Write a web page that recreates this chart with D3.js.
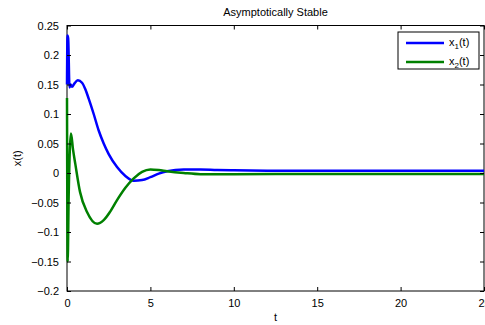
<!DOCTYPE html>
<html>
<head>
<meta charset="utf-8">
<script src="https://cdn.jsdelivr.net/npm/d3@7"></script>
<style>
  body { margin: 0; background: #fff; }
  text { font-family: "Liberation Sans", Arial, sans-serif; }
</style>
</head>
<body>
<div id="chart"></div>
<script>
// values
const tVals1 = [0, 0.03, 0.07, 0.15, 0.22, 0.3, 0.45, 0.65, 0.9, 1.1, 1.3, 1.6, 1.9, 2.2, 2.5, 3, 3.5, 4, 4.5, 5, 5.5, 6, 7, 8, 9, 10, 12, 15, 20, 25];
const x1Vals = [0.15, 0.233, 0.228, 0.145, 0.15, 0.146, 0.152, 0.157, 0.153, 0.142, 0.126, 0.1, 0.072, 0.05, 0.032, 0.01, -0.005, -0.013, -0.012, -0.007, -0.001, 0.003, 0.006, 0.006, 0.005, 0.0045, 0.004, 0.004, 0.004, 0.004];

const tVals2 = [0, 0.04, 0.1, 0.24, 0.36, 0.5, 0.78, 1.2, 1.8, 2.2, 2.6, 3, 3.5, 4, 4.5, 5, 5.5, 6, 7, 8, 10, 15, 20, 25];
const x2Vals = [0.127, -0.15, -0.04, 0.067, 0.04, 0.015, -0.032, -0.066, -0.086, -0.08, -0.065, -0.046, -0.025, -0.009, 0.002, 0.006, 0.005, 0.003, 0, -0.002, -0.002, -0.0015, -0.0015, -0.0015];

const xTicks = [0, 5, 10, 15, 20, 25];
const yTicks = [0.25, 0.2, 0.15, 0.1, 0.05, 0, -0.05, -0.1, -0.15, -0.2];
const seriesNames = ['x1', 'x2'];
const seriesColors = ['#0000ff', '#008000'];

const W = 485, H = 325;
const margin = { top: 25.5, right: 1, bottom: 34, left: 67 };
const width = W - margin.left - margin.right,
  height = H - margin.top - margin.bottom;

const svg = d3.select('#chart').append('svg')
  .attr('width', W)
  .attr('height', H);

const x = d3.scaleLinear().domain([0, 25]).range([margin.left, margin.left + width]);
const y = d3.scaleLinear().domain([-0.2, 0.25]).range([margin.top + height, margin.top]);

// lines
const line = d3.line()
  .x(d => x(d[0]))
  .y(d => y(d[1]))
  .curve(d3.curveMonotoneX);

const series = [
  d3.zip(tVals1, x1Vals),
  d3.zip(tVals2, x2Vals)
];

// frame
svg.append('rect')
  .attr('x', margin.left).attr('y', margin.top)
  .attr('width', width).attr('height', height)
  .attr('fill', 'none').attr('stroke', '#000').attr('stroke-width', 1);

series.forEach((s, i) => {
  svg.append('path')
    .attr('d', line(s))
    .attr('fill', 'none')
    .attr('stroke', seriesColors[i])
    .attr('stroke-width', 2.5)
    .attr('stroke-linejoin', 'round');
});

// axes, ticks pointing inward like matlab
const tickLen = 4;
const bottomAxis = d3.axisBottom(x).tickValues(xTicks).tickSize(-tickLen).tickPadding(8).tickFormat(d3.format('d'));
const topAxis = d3.axisTop(x).tickValues(xTicks).tickSize(-tickLen).tickFormat('');
const leftAxis = d3.axisLeft(y).tickValues(yTicks).tickSize(-tickLen).tickPadding(8).tickFormat(d => d === 0 ? '0' : d3.format('')(+d.toFixed(2)));
const rightAxis = d3.axisRight(y).tickValues(yTicks).tickSize(-tickLen).tickFormat('');

const gb = svg.append('g').attr('transform', 'translate(0,' + (margin.top + height) + ')').call(bottomAxis);
const gt = svg.append('g').attr('transform', 'translate(0,' + margin.top + ')').call(topAxis);
const gl = svg.append('g').attr('transform', 'translate(' + margin.left + ',0)').call(leftAxis);
const gr = svg.append('g').attr('transform', 'translate(' + (margin.left + width) + ',0)').call(rightAxis);

[gb, gt, gl, gr].forEach(g => {
  g.select('.domain').remove();
  g.selectAll('.tick line').attr('stroke', '#000');
  g.selectAll('text').attr('font-size', 11).attr('fill', '#000')
    .style('font-family', '"Liberation Sans", Arial, sans-serif');
});

// titles
svg.append('text')
  .attr('x', margin.left + width / 2).attr('y', 16)
  .attr('text-anchor', 'middle').attr('font-size', 11)
  .text('Asymptotically Stable');

svg.append('text')
  .attr('x', margin.left + width / 2).attr('y', 321)
  .attr('text-anchor', 'middle').attr('font-size', 11)
  .text('t');

svg.append('text')
  .attr('transform', 'translate(21,' + (margin.top + height / 2) + ') rotate(-90)')
  .attr('text-anchor', 'middle').attr('font-size', 11)
  .text('x(t)');

// legend
const lg = svg.append('g').attr('transform', 'translate(398,32)');
lg.append('rect')
  .attr('width', 81).attr('height', 37)
  .attr('fill', '#fff').attr('stroke', '#000').attr('stroke-width', 1);

seriesNames.forEach((name, i) => {
  const yy = 11 + i * 19;
  lg.append('line')
    .attr('x1', 8).attr('x2', 46).attr('y1', yy).attr('y2', yy)
    .attr('stroke', seriesColors[i]).attr('stroke-width', 2.5);
  const t = lg.append('text')
    .attr('x', 51).attr('y', yy + 3)
    .attr('font-size', 11);
  t.append('tspan').text('x');
  t.append('tspan').attr('dy', 3).attr('font-size', 8).text(String(i + 1));
  t.append('tspan').attr('dy', -3).text('(t)');
});
</script>
</body>
</html>
